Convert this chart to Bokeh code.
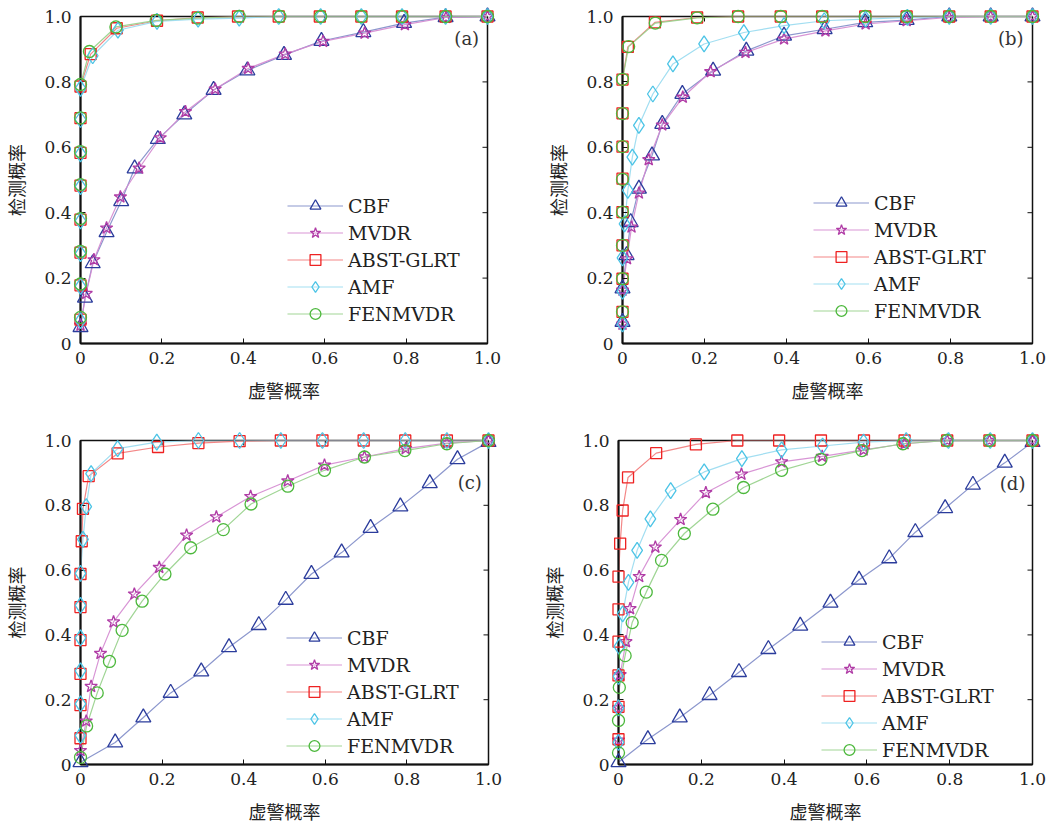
import math
from bokeh.plotting import figure
from bokeh.models import Range1d, FixedTicker, Label
from bokeh.layouts import column, row
from bokeh.embed import file_html
from bokeh.resources import INLINE

# ---------------- data ----------------
SERIES = ["CBF", "MVDR", "ABST-GLRT", "AMF", "FENMVDR"]
TICKS = [0, 0.2, 0.4, 0.6, 0.8, 1.0]
TICK_LABELS = ["0", "0.2", "0.4", "0.6", "0.8", "1.0"]
X_LABEL = "虚警概率"
Y_LABEL = "检测概率"
PANEL_TAGS = ["(a)", "(b)", "(c)", "(d)"]

# panel (a)
a_cbf_x = [0, 0.011, 0.03, 0.064, 0.1, 0.133, 0.19, 0.255, 0.327, 0.41, 0.5, 0.592, 0.695, 0.795, 0.897, 1.0]
a_cbf_y = [0.05, 0.14, 0.245, 0.34, 0.435, 0.535, 0.625, 0.70, 0.775, 0.835, 0.882, 0.925, 0.952, 0.98, 0.998, 1.0]
a_mvdr_x = [0, 0.014, 0.033, 0.064, 0.098, 0.144, 0.196, 0.258, 0.331, 0.412, 0.503, 0.596, 0.698, 0.797, 0.898, 1.0]
a_mvdr_y = [0.056, 0.153, 0.256, 0.353, 0.448, 0.536, 0.629, 0.709, 0.778, 0.841, 0.885, 0.924, 0.949, 0.975, 0.997, 1.0]
a_abst_x = [0, 0, 0, 0, 0, 0, 0, 0, 0.025, 0.089, 0.188, 0.288, 0.387, 0.487, 0.588, 0.69, 0.79, 0.897, 1.0]
a_abst_y = [0.073, 0.178, 0.278, 0.379, 0.483, 0.583, 0.689, 0.786, 0.885, 0.964, 0.987, 0.997, 1.0, 1.0, 1.0, 1.0, 1.0, 1.0, 1.0]
a_amf_x = [0, 0, 0, 0, 0, 0, 0, 0, 0.03, 0.092, 0.188, 0.289, 0.39, 0.487, 0.59, 0.69, 0.79, 0.897, 1.0]
a_amf_y = [0.07, 0.175, 0.275, 0.375, 0.48, 0.58, 0.685, 0.78, 0.88, 0.958, 0.985, 0.992, 0.995, 1.0, 1.0, 1.0, 1.0, 1.0, 1.0]
a_fen_x = [0, 0, 0, 0, 0, 0, 0, 0, 0.022, 0.087, 0.186, 0.288, 0.39, 0.49, 0.59, 0.69, 0.79, 0.897, 1.0]
a_fen_y = [0.08, 0.182, 0.282, 0.382, 0.486, 0.587, 0.69, 0.792, 0.893, 0.968, 0.988, 0.995, 1.0, 1.0, 1.0, 1.0, 1.0, 1.0, 1.0]

# panel (b)
b_cbf_x = [0, 0, 0.01, 0.02, 0.04, 0.072, 0.097, 0.146, 0.221, 0.302, 0.394, 0.493, 0.592, 0.693, 0.797, 0.898, 1.0]
b_cbf_y = [0.066, 0.168, 0.27, 0.371, 0.473, 0.575, 0.671, 0.763, 0.834, 0.895, 0.941, 0.961, 0.982, 0.989, 1.0, 1.0, 1.0]
b_mvdr_x = [0, 0, 0.011, 0.022, 0.04, 0.064, 0.097, 0.147, 0.215, 0.3, 0.394, 0.495, 0.593, 0.693, 0.797, 0.898, 1.0]
b_mvdr_y = [0.059, 0.163, 0.259, 0.356, 0.46, 0.562, 0.668, 0.753, 0.831, 0.89, 0.931, 0.956, 0.977, 0.987, 0.997, 1.0, 1.0]
b_abst_x = [0, 0, 0, 0, 0, 0, 0, 0, 0.013, 0.079, 0.182, 0.282, 0.386, 0.487, 0.592, 0.693, 0.797, 0.898, 1.0]
b_abst_y = [0.097, 0.198, 0.3, 0.402, 0.504, 0.602, 0.704, 0.807, 0.907, 0.982, 0.997, 1.0, 1.0, 1.0, 1.0, 1.0, 1.0, 1.0, 1.0]
b_amf_x = [0, 0, 0, 0.005, 0.013, 0.024, 0.04, 0.074, 0.123, 0.199, 0.296, 0.394, 0.492, 0.593, 0.695, 0.797, 0.898, 1.0]
b_amf_y = [0.06, 0.16, 0.262, 0.366, 0.468, 0.57, 0.667, 0.763, 0.855, 0.916, 0.951, 0.972, 0.987, 0.992, 0.997, 1.0, 1.0, 1.0]
b_fen_x = [0, 0, 0, 0, 0, 0, 0, 0, 0.015, 0.08, 0.182, 0.282, 0.386, 0.487, 0.592, 0.693, 0.797, 0.898, 1.0]
b_fen_y = [0.097, 0.198, 0.3, 0.402, 0.502, 0.602, 0.703, 0.808, 0.908, 0.98, 0.996, 1.0, 1.0, 1.0, 1.0, 1.0, 1.0, 1.0, 1.0]

# panel (c)
c_cbf_x = [0, 0.085, 0.154, 0.221, 0.296, 0.364, 0.437, 0.503, 0.566, 0.64, 0.711, 0.784, 0.856, 0.924, 1.0]
c_cbf_y = [0.007, 0.068, 0.145, 0.221, 0.287, 0.362, 0.43, 0.508, 0.588, 0.654, 0.73, 0.796, 0.868, 0.942, 0.995]
c_mvdr_x = [0, 0.014, 0.026, 0.049, 0.081, 0.132, 0.193, 0.26, 0.333, 0.417, 0.508, 0.598, 0.696, 0.797, 0.898, 1.0]
c_mvdr_y = [0.043, 0.134, 0.241, 0.343, 0.44, 0.526, 0.608, 0.708, 0.764, 0.827, 0.875, 0.924, 0.949, 0.975, 0.992, 1.0]
c_abst_x = [0, 0, 0, 0, 0, 0, 0.003, 0.006, 0.02, 0.091, 0.19, 0.289, 0.39, 0.491, 0.593, 0.694, 0.796, 0.898, 1.0]
c_abst_y = [0.081, 0.183, 0.28, 0.384, 0.486, 0.588, 0.689, 0.789, 0.89, 0.96, 0.98, 0.992, 0.998, 1.0, 1.0, 1.0, 1.0, 1.0, 1.0]
c_amf_x = [0, 0, 0, 0, 0, 0, 0.006, 0.014, 0.026, 0.091, 0.187, 0.289, 0.39, 0.491, 0.593, 0.694, 0.796, 0.898, 1.0]
c_amf_y = [0.089, 0.187, 0.289, 0.391, 0.491, 0.59, 0.695, 0.796, 0.898, 0.975, 0.995, 1.0, 1.0, 1.0, 1.0, 1.0, 1.0, 1.0, 1.0]
c_fen_x = [0, 0.015, 0.041, 0.071, 0.102, 0.151, 0.207, 0.27, 0.35, 0.418, 0.508, 0.598, 0.696, 0.795, 0.898, 1.0]
c_fen_y = [0.022, 0.119, 0.221, 0.318, 0.414, 0.504, 0.588, 0.669, 0.725, 0.804, 0.859, 0.908, 0.949, 0.969, 0.99, 1.0]

# panel (d)
d_cbf_x = [0, 0.071, 0.148, 0.22, 0.291, 0.362, 0.439, 0.512, 0.581, 0.654, 0.717, 0.789, 0.856, 0.933, 1.0]
d_cbf_y = [0.007, 0.078, 0.145, 0.214, 0.285, 0.356, 0.428, 0.499, 0.57, 0.636, 0.717, 0.791, 0.863, 0.931, 0.995]
d_mvdr_x = [0, 0, 0.004, 0.018, 0.028, 0.05, 0.089, 0.15, 0.211, 0.297, 0.394, 0.492, 0.592, 0.691, 0.794, 0.896, 1.0]
d_mvdr_y = [0.075, 0.175, 0.277, 0.379, 0.481, 0.58, 0.671, 0.756, 0.839, 0.896, 0.934, 0.951, 0.971, 0.99, 1.0, 1.0, 1.0]
d_abst_x = [0, 0, 0, 0, 0, 0, 0.004, 0.01, 0.023, 0.091, 0.187, 0.287, 0.388, 0.489, 0.593, 0.691, 0.794, 0.896, 1.0]
d_abst_y = [0.078, 0.178, 0.275, 0.379, 0.479, 0.58, 0.682, 0.784, 0.886, 0.961, 0.988, 1.0, 1.0, 1.0, 1.0, 1.0, 1.0, 1.0, 1.0]
d_amf_x = [0, 0, 0, 0.002, 0.01, 0.024, 0.045, 0.077, 0.126, 0.207, 0.298, 0.394, 0.493, 0.592, 0.695, 0.797, 0.898, 1.0]
d_amf_y = [0.068, 0.175, 0.272, 0.364, 0.465, 0.562, 0.661, 0.758, 0.845, 0.903, 0.944, 0.971, 0.983, 0.995, 1.0, 1.0, 1.0, 1.0]
d_fen_x = [0, 0, 0.002, 0.016, 0.033, 0.067, 0.104, 0.159, 0.228, 0.302, 0.394, 0.489, 0.588, 0.687, 0.793, 0.896, 1.0]
d_fen_y = [0.036, 0.136, 0.238, 0.336, 0.438, 0.532, 0.63, 0.713, 0.788, 0.855, 0.908, 0.942, 0.969, 0.99, 1.0, 1.0, 1.0]

PANELS = [
    [(a_cbf_x, a_cbf_y), (a_mvdr_x, a_mvdr_y), (a_abst_x, a_abst_y), (a_amf_x, a_amf_y), (a_fen_x, a_fen_y)],
    [(b_cbf_x, b_cbf_y), (b_mvdr_x, b_mvdr_y), (b_abst_x, b_abst_y), (b_amf_x, b_amf_y), (b_fen_x, b_fen_y)],
    [(c_cbf_x, c_cbf_y), (c_mvdr_x, c_mvdr_y), (c_abst_x, c_abst_y), (c_amf_x, c_amf_y), (c_fen_x, c_fen_y)],
    [(d_cbf_x, d_cbf_y), (d_mvdr_x, d_mvdr_y), (d_abst_x, d_abst_y), (d_amf_x, d_amf_y), (d_fen_x, d_fen_y)],
]

# ---------------- style ----------------
MARKERS = ["triangle", "star", "square", "diamond", "circle"]
MARKER_SIZES = [15, 13, 11, 16, 12]
MARKER_COLORS = ["#2b3c9c", "#b03ca6", "#ee2222", "#4cc4e6", "#4cb83c"]
LINE_COLORS = ["#7f8cc8", "#d48ad0", "#f27a7a", "#98daf0", "#96d08a"]
SERIF = "DejaVu Serif"
CJK = "Noto Sans CJK SC"
INK = "#111111"

# (min_border_left, min_border_right, min_border_top, min_border_bottom, legend_loc, tag_pos)
LAYOUT = [
    (77, 39, 16, 70, (207, 16), (0.949, 0.933)),
    (96, 20, 16, 70, (191, 19), (0.947, 0.933)),
    (78, 38, 27, 57, (206, 5), (0.954, 0.87)),
    (92, 20, 27, 57, (203, 1), (0.952, 0.868)),
]
W, H = 526, 413


def make_panel(i):
    bl, br, bt, bb, loc, tag = LAYOUT[i]
    p = figure(width=W, height=H, output_backend="svg", toolbar_location=None,
               x_range=Range1d(0, 1), y_range=Range1d(0, 1),
               min_border_left=bl, min_border_right=br, min_border_top=bt, min_border_bottom=bb,
               background_fill_color="white", border_fill_color="white")
    p.grid.visible = False
    p.outline_line_color = INK
    p.outline_line_width = 1.5

    overrides = {t: lab for t, lab in zip(TICKS, TICK_LABELS)}
    for ax in (p.xaxis[0], p.yaxis[0]):
        ax.ticker = FixedTicker(ticks=TICKS)
        ax.major_label_overrides = overrides
        ax.major_tick_in = 5
        ax.major_tick_out = 0
        ax.minor_tick_line_color = None
        ax.major_tick_line_color = INK
        ax.axis_line_color = INK
        ax.axis_line_width = 2
        ax.major_label_text_font = SERIF
        ax.major_label_text_font_size = "17px"
        ax.major_label_text_color = "#222222"
        ax.axis_label_text_font = CJK
        ax.axis_label_text_font_size = "18px"
        ax.axis_label_text_font_style = "normal"
        ax.axis_label_text_color = "#222222"
    p.xaxis[0].axis_label = X_LABEL
    p.yaxis[0].axis_label = Y_LABEL
    p.xaxis[0].major_label_standoff = 8
    p.xaxis[0].axis_label_standoff = 10
    p.yaxis[0].major_label_standoff = 9
    p.yaxis[0].axis_label_standoff = 12

    # inward ticks on the right and top edges of the box
    p.ray(x=[1.0] * len(TICKS), y=TICKS, length=5, length_units="screen",
          angle=math.pi, line_color=INK, line_width=1)
    p.ray(x=TICKS, y=[1.0] * len(TICKS), length=5, length_units="screen",
          angle=-math.pi / 2, line_color=INK, line_width=1)

    for k, (xs, ys) in enumerate(PANELS[i]):
        p.line(xs, ys, line_color=LINE_COLORS[k], line_width=1.2, line_alpha=0.9,
               legend_label=SERIES[k])
        r = p.scatter(xs, ys, marker=MARKERS[k], size=MARKER_SIZES[k],
                      line_color=MARKER_COLORS[k], line_width=1.3, fill_color=None,
                      legend_label=SERIES[k])
        r.level = "overlay"

    lg = p.legend[0]
    lg.location = loc
    lg.border_line_color = None
    lg.background_fill_alpha = 0
    lg.padding = 0
    lg.margin = 0
    lg.glyph_width = 56
    lg.glyph_height = 27
    lg.label_height = 27
    lg.spacing = 0
    lg.label_standoff = 5
    lg.label_text_font = SERIF
    lg.label_text_font_size = "19px"
    lg.label_text_color = "#222222"

    p.add_layout(Label(x=tag[0], y=tag[1], text=PANEL_TAGS[i], text_font=SERIF,
                       text_font_size="18px", text_color="#333333",
                       text_align="center", text_baseline="middle"))
    return p


panels = [make_panel(i) for i in range(4)]
layout = column(row(panels[0], panels[1]), row(panels[2], panels[3]))
open("out.html", "w").write(file_html(layout, INLINE))
